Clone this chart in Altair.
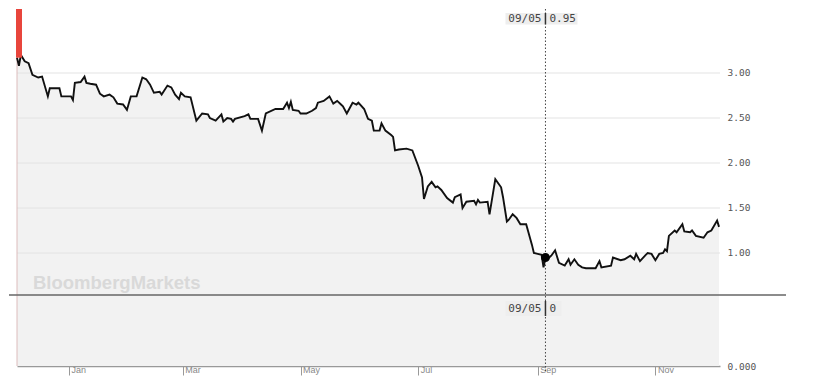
import altair as alt
import pandas as pd

# ---- data ----
start_date = "2018-12-05"
days = [0, 1, 2, 4, 6, 8, 11, 13, 16, 17, 22, 23, 28, 29, 30, 33, 35, 36, 38, 41,
        43, 45, 48, 50, 52, 55, 57, 59, 62, 65, 67, 69, 71, 74, 75, 78, 80, 82, 84, 85,
        87, 90, 93, 96, 99, 100, 103, 106, 107, 109, 111, 112, 113, 118, 120, 121, 125, 127, 129, 134,
        138, 140, 141, 142, 143, 146, 147, 150, 153, 155, 156, 159, 162, 164, 166, 168, 169, 171, 174, 176,
        177, 180, 182, 184, 185, 188, 189, 191, 194, 195, 196, 198, 202, 205, 208, 210, 211, 213, 215, 217,
        218, 220, 223, 226, 227, 230, 231, 233, 237, 238, 239, 240, 244, 245, 248, 251, 252, 254, 255, 257,
        259, 261, 264, 267, 268, 270, 272, 273, 274, 275, 277, 279, 281, 284, 286, 287, 289, 291, 293, 295,
        300, 302, 303, 308, 309, 313, 315, 318, 320, 321, 323, 326, 327, 329, 331, 333, 335, 336, 337, 338,
        341, 342, 345, 346, 349, 350, 352, 356, 358, 360, 363, 364]
values = [3.17, 3.08, 3.20, 3.13, 3.11, 2.98, 2.95, 2.96, 2.74, 2.83, 2.83, 2.74, 2.74, 2.70, 2.89, 2.90, 2.96, 2.89, 2.88, 2.87,
          2.77, 2.74, 2.76, 2.73, 2.66, 2.65, 2.59, 2.74, 2.74, 2.95, 2.93, 2.87, 2.78, 2.79, 2.76, 2.86, 2.84, 2.76, 2.71, 2.78,
          2.74, 2.73, 2.47, 2.55, 2.54, 2.50, 2.47, 2.54, 2.46, 2.50, 2.49, 2.46, 2.49, 2.52, 2.54, 2.49, 2.49, 2.36, 2.55, 2.60,
          2.60, 2.67, 2.61, 2.68, 2.59, 2.58, 2.55, 2.55, 2.58, 2.61, 2.67, 2.69, 2.74, 2.66, 2.69, 2.65, 2.63, 2.55, 2.67, 2.65,
          2.67, 2.60, 2.49, 2.47, 2.36, 2.36, 2.44, 2.36, 2.31, 2.29, 2.14, 2.15, 2.16, 2.14, 1.97, 1.84, 1.60, 1.74, 1.79, 1.73,
          1.74, 1.70, 1.61, 1.56, 1.62, 1.65, 1.50, 1.57, 1.58, 1.54, 1.59, 1.56, 1.57, 1.43, 1.82, 1.73, 1.62, 1.35, 1.37, 1.43,
          1.39, 1.32, 1.32, 1.09, 1.00, 0.99, 0.98, 0.84, 0.95, 0.93, 0.97, 1.03, 0.89, 0.86, 0.93, 0.87, 0.93, 0.87, 0.84, 0.83,
          0.83, 0.91, 0.84, 0.86, 0.95, 0.92, 0.93, 0.97, 0.93, 0.99, 0.91, 0.98, 1.00, 0.99, 0.92, 0.99, 1.00, 1.04, 1.02, 1.19,
          1.25, 1.23, 1.32, 1.24, 1.23, 1.25, 1.19, 1.17, 1.23, 1.25, 1.36, 1.29]
month_ticks = [1, 3, 5, 7, 9, 11]
y_ticks = [1.0, 1.5, 2.0, 2.5, 3.0]
marker_date = "2019-09-05T00:00:00"
marker_value = 0.95
marker_label = "09/05"
lower_value = "0"
lower_axis_label = "0.000"
watermark = "BloombergMarkets"

dates = list((pd.Timestamp(start_date) + pd.to_timedelta(days, unit="D")).strftime("%Y-%m-%dT%H:%M:%S"))
df = pd.DataFrame({"date": dates, "value": values})
first = df.iloc[[0]]
last = df.iloc[[-1]]
mk = pd.DataFrame({"date": [marker_date], "value": [marker_value], "label": [marker_label],
                   "vtext": [f"{marker_value:.2f}"], "low": [lower_value]})

# layout (pixels)
W, H = 703, 357          # plot area: upper panel 0..286, lower panel 286..357
SPLIT = 286
Y_MIN, Y_MAX = -0.2556, 3.7111   # upper panel scale stretched over the whole plot
MONO = "DejaVu Sans Mono"

x_scale = alt.Scale(domain=[alt.DateTime(year=2018, month=12, date=5),
                            alt.DateTime(year=2019, month=12, date=4, hours=12)])
x_axis = alt.Axis(values=[alt.DateTime(year=2019, month=m, date=1) for m in month_ticks],
                  format="%b", title=None, grid=False, domainColor="#999", domainWidth=1.5,
                  tickColor="#999", tickSize=9, tickWidth=1, labelAlign="left", labelOffset=2,
                  labelBaseline="middle", labelPadding=-6, labelFont="Liberation Sans",
                  labelFontSize=9, labelColor="#888")
X = alt.X("date:T", scale=x_scale, axis=x_axis)

y_scale = alt.Scale(domain=[Y_MIN, Y_MAX], nice=False, zero=False)
y_axis = alt.Axis(orient="right", values=y_ticks + [Y_MIN], grid=False, domain=False, ticks=False,
                  labelExpr=f"datum.value < 0.5 ? '{lower_axis_label}' : format(datum.value, '.2f')",
                  labelPadding=7, labelFont=MONO, labelFontSize=9.5, labelColor="#555", title=None)
Y = alt.Y("value:Q", scale=y_scale, axis=y_axis)

base = alt.Chart(df)
area = base.mark_area(color="#f2f2f2").encode(x=X, y=Y, y2=alt.value(H))
lower_bg = alt.Chart(pd.concat([first, last])).mark_rect(color="#f2f2f2").encode(
    x=alt.X("min(date):T", scale=x_scale, axis=x_axis), x2="max(date):T",
    y=alt.value(SPLIT), y2=alt.value(H))
grid = alt.Chart(pd.DataFrame({"value": y_ticks})).mark_rule(color="#e3e3e3", strokeWidth=1).encode(
    y=Y, x=alt.value(0), x2=alt.value(W))
left_border = alt.Chart(first).mark_rule(color="#dcbcbc", strokeWidth=1).encode(
    x=alt.value(0), y=alt.value(0), y2=alt.value(H))
wm = alt.Chart(pd.DataFrame({"t": [watermark]})).mark_text(
    align="left", baseline="middle", font="Liberation Sans", fontWeight="bold",
    fontSize=18.5, color="#d9d9d9").encode(text="t:N", x=alt.value(16), y=alt.value(274))
sepline = alt.Chart(first).mark_rule(color="#666", strokeWidth=1.5).encode(
    x=alt.value(-8), x2=alt.value(769), y=alt.value(SPLIT))
line = base.mark_line(color="#111", strokeWidth=1.9).encode(x=X, y=Y)
red = alt.Chart(first).mark_rect(color="#e8453c").encode(
    x=alt.value(-1), x2=alt.value(5), y=Y, y2=alt.value(0))
vrule = alt.Chart(mk).mark_rule(color="#444", strokeDash=[1.5, 2], strokeWidth=1).encode(
    x=X, y=alt.value(0), y2=alt.value(H + 5))
pt = alt.Chart(mk).mark_point(filled=True, color="#000", size=80, opacity=1).encode(x=X, y=Y)

def tip(y0, y1, right, col):
    b = alt.Chart(mk).mark_rect(color="#eeeeee", xOffset=-40, x2Offset=right).encode(
        x=X, x2="date:T", y=alt.value(y0), y2=alt.value(y1))
    s = alt.Chart(mk).mark_rule(color="#333", strokeWidth=1.5).encode(
        x=X, y=alt.value(y0), y2=alt.value(y1))
    ym = (y0 + y1) / 2
    a = alt.Chart(mk).mark_text(align="right", baseline="middle", dx=-4, font=MONO, fontSize=11,
                                color="#444").encode(x=X, y=alt.value(ym), text="label:N")
    c = alt.Chart(mk).mark_text(align="left", baseline="middle", dx=4, font=MONO, fontSize=11,
                                color="#444").encode(x=X, y=alt.value(ym), text=f"{col}:N")
    return [b, s, a, c]

layers = [area, lower_bg, grid, wm, left_border, sepline, line, red, vrule, pt]
layers += tip(4, 15.5, 32, "vtext")
layers += tip(292, 307, 16, "low")

chart = alt.layer(*layers).properties(width=W, height=H).configure_view(stroke=None).properties(
    padding={"left": 0, "top": 0, "right": 0, "bottom": 0}, background="white")
chart.save("out.html", embed_options={"renderer": "svg", "actions": False})
